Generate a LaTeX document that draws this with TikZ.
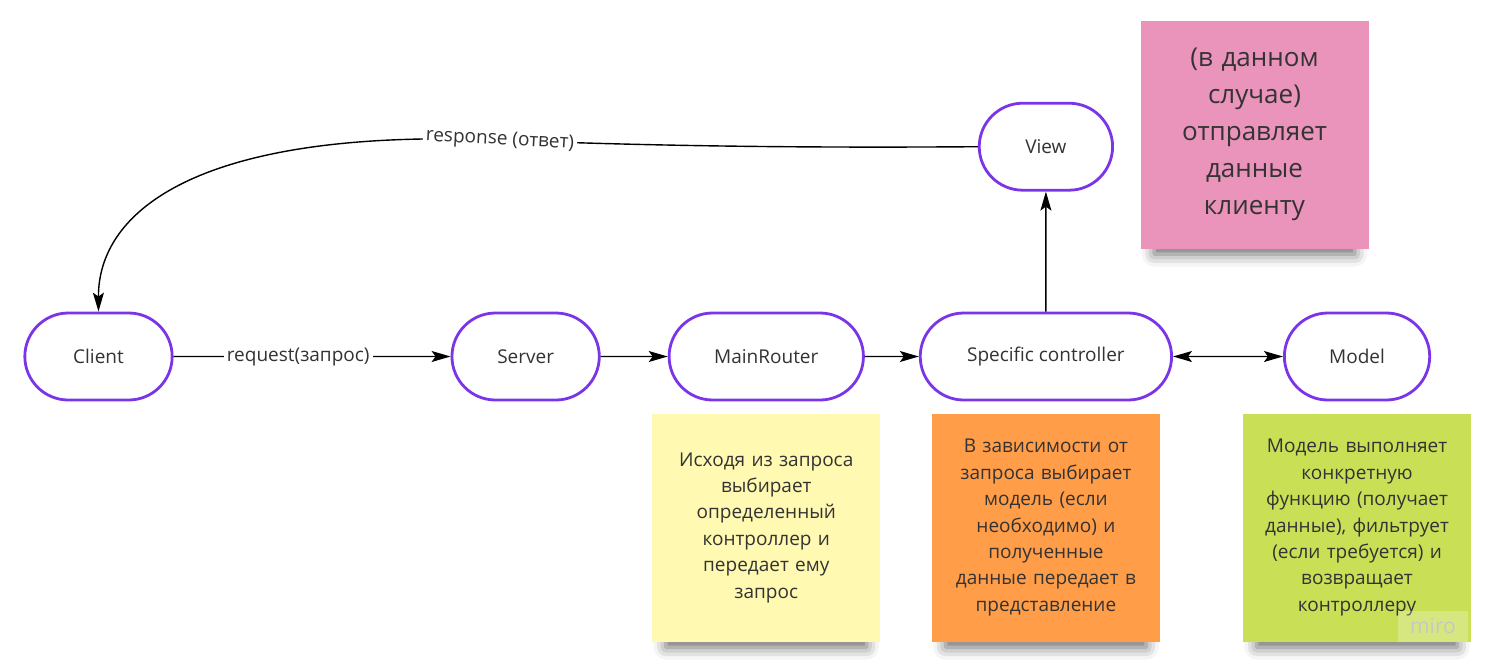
\documentclass[tikz,border=0pt]{standalone}
\usepackage{fontspec}
\setmainfont{Open Sans}
\usetikzlibrary{arrows.meta,positioning,shapes.misc,shadows.blur}
\definecolor{miropurple}{HTML}{7B35E8}
\definecolor{textgray}{HTML}{333333}
\definecolor{yellownote}{HTML}{FFF9B1}
\definecolor{orangenote}{HTML}{FF9D48}
\definecolor{greennote}{HTML}{C9DF56}
\definecolor{pinknote}{HTML}{EA94BB}
\tikzset{
    %Define standard arrow tip
    tip/.tip={Stealth[length=19pt,width=11pt,inset=4pt]},
    %Define style for boxes
    block/.style={
           rounded rectangle,
           draw=miropurple, line width=2.8pt,
           fill=white,
           minimum height=87pt,
           font=\fontsize{19}{23}\selectfont,
           text=textgray,
           text centered},
    sticky/.style={
           rectangle,
           minimum width=228pt,
           minimum height=228pt,
           text width=210pt,
           align=center,
           text=textgray,
           font=\fontsize{19}{26.4}\selectfont,
           blur shadow={shadow xshift=0pt, shadow yshift=-22pt,
                        shadow scale=0.88, shadow opacity=60,
                        shadow blur radius=14pt}},
    % Define label style
    lbl/.style={
           fill=white,
           inner sep=3pt,
           text=textgray,
           font=\fontsize{19}{23}\selectfont},
    % Define arrow style
    pil/.style={
           -tip,
           line width=1.4pt},
    bipil/.style={
           tip-tip,
           line width=1.4pt}
}

\begin{document}
\begin{tikzpicture}[x=1pt,y=-1pt,node distance=12pt]
\useasboundingbox (0,0) rectangle (1491,670);
 %nodes
\node[block, minimum width=154pt] (client) at (98.5,356.5) {Client};
\node[block, minimum width=154pt, right=277pt of client] (server) {Server};
\node[block, minimum width=201pt, right=67pt of server] (router) {MainRouter};
\node[block, minimum width=258pt, right=54pt of router] (ctrl) {Specific controller};
\node[block, minimum width=152pt, right=110pt of ctrl] (model) {Model};
\node[block, minimum width=140pt, above=120pt of ctrl] (view) {View};
 %notes
\node[sticky, fill=yellownote, below=of router] (note1) {Исходя из запроса\\выбирает\\определенный\\контроллер и\\передает ему\\запрос};
\node[sticky, fill=orangenote, below=of ctrl] (note2) {В зависимости от\\запроса выбирает\\модель (если\\необходимо) и\\полученные\\данные передает в\\представление};
\node[sticky, fill=greennote, below=of model] (note3) {Модель выполняет\\конкретную\\функцию (получает\\данные), фильтрует\\(если требуется) и\\возвращает\\контроллеру};
\node[sticky, fill=pinknote, font=\fontsize{26}{37}\selectfont] (note4) at (1254.5,134.5) {(в данном\\случае)\\отправляет\\данные\\клиенту};
\node[fill=white, fill opacity=0.25, text opacity=1, text=black!22, minimum width=70pt, minimum height=31pt,
      font=\fontsize{21}{23}\selectfont] (miro) at (1433,626) {miro};
 %edges
\path[pil]
    (client) edge node[lbl, pos=0.45]{request(запрос)} (server)
    (server) edge (router)
    (router) edge (ctrl)
    (ctrl) edge[bipil] (model)
    (ctrl) edge (view);
\draw[pil] (view.west) .. controls (800,148) and (650,146) .. (500,140)
    node[lbl, rotate=-3]{response (ответ)}
    .. controls (200,128) and (98,210) .. (client.north);
\end{tikzpicture}
\end{document}
